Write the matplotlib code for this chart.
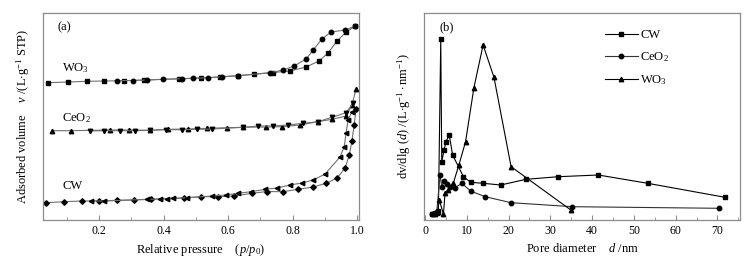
import matplotlib
matplotlib.use("Agg")
import matplotlib.pyplot as plt
from matplotlib.ticker import MultipleLocator

plt.rcParams['font.family'] = ['Liberation Serif', 'DejaVu Serif']
plt.rcParams['mathtext.fontset'] = 'custom'
plt.rcParams['mathtext.rm'] = 'Liberation Serif'
plt.rcParams['mathtext.it'] = 'Liberation Serif:italic'
plt.rcParams['font.size'] = 8.5

# ---------------- Panel (a): N2 isotherms (arbitrary stacked units) -------------
wo3_ads_p = [0.042, 0.104, 0.163, 0.216, 0.278, 0.340, 0.448, 0.516, 0.575, 0.631,
             0.681, 0.740, 0.792, 0.842, 0.882, 0.910, 0.938, 0.966, 0.995]
wo3_ads_v = [137.3, 138, 138.7, 139, 139.3, 140, 141.2, 142, 143, 144.3,
             145.7, 147.5, 149, 153, 159, 167, 179, 188, 194]
wo3_des_p = [0.256, 0.305, 0.349, 0.398, 0.457, 0.491, 0.538, 0.581, 0.631, 0.730,
             0.771, 0.805, 0.842, 0.864, 0.891, 0.919, 0.963, 0.995]
wo3_des_v = [139.3, 139.5, 140, 140.7, 141.3, 141.7, 142.3, 143.3, 144.3, 147.3,
             150, 154, 161, 170, 181, 188, 190, 194]

ceo2_ads_p = [0.054, 0.113, 0.234, 0.293, 0.358, 0.414, 0.476, 0.535, 0.597, 0.647,
              0.718, 0.767, 0.823, 0.879, 0.922, 0.966, 0.984, 0.997]
ceo2_ads_v = [89.3, 89.3, 90, 90, 89.7, 90.7, 91, 91.7, 92.3, 92.7,
              93, 93.3, 95, 98.3, 100.7, 104, 115, 131]
ceo2_des_p = [0.172, 0.216, 0.265, 0.312, 0.358, 0.408, 0.457, 0.504, 0.550, 0.647,
              0.693, 0.740, 0.786, 0.833, 0.879, 0.922, 0.966, 0.988]
ceo2_des_v = [89, 89.3, 89.3, 89.3, 89.7, 90.3, 90.3, 90.7, 91, 92.7,
              94, 94, 95, 96.7, 98.3, 102.7, 107.3, 117]

cw_ads_p = [0.036, 0.091, 0.147, 0.200, 0.256, 0.309, 0.361, 0.464, 0.516, 0.569,
            0.619, 0.674, 0.721, 0.771, 0.817, 0.864, 0.904, 0.938, 0.963, 0.976,
            0.984, 0.991, 0.997]
cw_ads_v = [17.3, 18.3, 19, 19, 19.7, 20, 20.7, 22, 23.3, 23.3,
            24, 26.7, 28.5, 28.3, 30.7, 33, 36.7, 42, 52, 65,
            79, 95, 111]
cw_des_p = [0.175, 0.216, 0.349, 0.389, 0.411, 0.429, 0.473, 0.550, 0.594, 0.631,
            0.671, 0.715, 0.752, 0.792, 0.829, 0.864, 0.901, 0.947, 0.960, 0.966,
            0.972, 0.984]
cw_des_v = [19, 19, 20.7, 21, 21.3, 21.7, 22.3, 24, 25, 26.7,
            28.3, 30.7, 32, 35, 37, 40, 46, 63, 73, 87,
            100, 108]

# ---------------- Panel (b): pore size distribution -------------
cw_d = [1.6, 2.4, 2.8, 3.2, 3.76, 4.0, 4.55, 5.0, 5.8, 6.6, 9.2, 10.9, 13.9,
        18.1, 24.2, 31.9, 41.5, 53.3, 71.8]
cw_psd = [5.7, 6.7, 7.3, 9, 180.7, 58.3, 70, 78.3, 85, 65, 43.3, 37.7, 36.7,
          35, 40.7, 43.3, 45, 36.7, 22.7]
ceo2_d = [1.6, 2.8, 3.6, 4.0, 4.55, 5.2, 6.0, 7.2, 8.8, 10.9, 14.4, 20.6, 35.3, 70.4]
ceo2_psd = [5.7, 8.3, 45, 33.3, 39, 36, 33.3, 32.3, 36.7, 29, 23.3, 17.3, 13.3, 11.7]
wo3_d = [2.4, 3.0, 3.4, 4.4, 4.8, 5.5, 6.8, 8.1, 9.7, 11.7, 13.9, 16.5, 20.6, 34.9]
wo3_psd = [6, 8, 20, 6, 27.3, 30, 37.3, 55, 78.3, 132.3, 175, 142.7, 53.3, 10]

W, H = 755, 259
fig = plt.figure(figsize=(W / 100, H / 100), dpi=100)
axa = fig.add_axes([43 / W, (H - 220) / H, 316 / W, 207 / H])
axb = fig.add_axes([424 / W, (H - 220) / H, 316 / W, 207 / H])

frame_col = '#8c8c8c'
for ax in (axa, axb):
    for s in ax.spines.values():
        s.set_color(frame_col)
        s.set_linewidth(0.9)
    ax.tick_params(direction='in', which='both', colors=frame_col, labelcolor='black',
                   labelsize=8.5, top=False, right=False, left=False, labelleft=False)
    ax.tick_params(which='major', length=3.5)
    ax.tick_params(which='minor', length=2)

lc = '#707070'
ms = 3.2
kw = dict(color=lc, lw=0.8, mfc='black', mec='black', ms=ms)
axa.plot(wo3_ads_p, wo3_ads_v, marker='s', **kw)
axa.plot(wo3_des_p, wo3_des_v, marker='o', **kw)
axa.plot(ceo2_ads_p, ceo2_ads_v, marker='^', **kw)
axa.plot(ceo2_des_p, ceo2_des_v, marker='v', **kw)
axa.plot(cw_ads_p, cw_ads_v, marker='D', **dict(kw, ms=2.8))
axa.plot(cw_des_p, cw_des_v, marker='<', **kw)

axa.set_xlim(0.026, 1.006)
axa.set_ylim(0, 207)
axa.xaxis.set_major_locator(MultipleLocator(0.2))
axa.xaxis.set_minor_locator(MultipleLocator(0.1))
axa.set_xticks([0.2, 0.4, 0.6, 0.8, 1.0])
axa.set_xticklabels(['0.2', '0.4', '0.6', '0.8', '1.0'])
axa.set_yticks([])
axa.set_xlabel(r'Relative pressure    ($p$/$p_0$)', fontsize=9, labelpad=4)
axa.set_ylabel(r'Adsorbed volume    $v$ /(L$\cdot$g$^{-1}$ STP)', fontsize=9, labelpad=8)
axa.text(0.047, 0.93, '(a)', transform=axa.transAxes, fontsize=9, va='center')
axa.text(0.085, 152, r'WO$_3$', fontsize=9, va='center')
axa.text(0.085, 102, r'CeO$_2$', fontsize=9, va='center')
axa.text(0.085, 34, 'CW', fontsize=9, va='center')

axb.plot(cw_d, cw_psd, marker='s', color='black', lw=0.8, ms=ms, label='CW')
axb.plot(ceo2_d, ceo2_psd, marker='o', color='#333333', lw=0.8, mfc='black',
         mec='black', ms=ms, label=r'CeO$_2$')
axb.plot(wo3_d, wo3_psd, marker='^', color='black', lw=0.8, ms=ms, label=r'WO$_3$')
axb.set_xlim(-0.25, 75.4)
axb.set_ylim(0, 207)
axb.xaxis.set_major_locator(MultipleLocator(10))
axb.xaxis.set_minor_locator(MultipleLocator(5))
axb.set_yticks([])
axb.set_xlabel(r'Pore diameter    $d$ /nm', fontsize=9, labelpad=4)
axb.set_ylabel(r'dv/dlg ($d$) /(L$\cdot$g$^{-1}\cdot$nm$^{-1}$)', fontsize=9, labelpad=8)
axb.text(0.05, 0.93, '(b)', transform=axb.transAxes, fontsize=9, va='center')
axb.legend(loc='upper left', bbox_to_anchor=((605 - 424) / 316, 1 - 16 / 207),
           frameon=False, fontsize=9, handlelength=2.6, handletextpad=0.2,
           labelspacing=0.75, borderaxespad=0, borderpad=0)

fig.savefig('out.png', dpi=100)
